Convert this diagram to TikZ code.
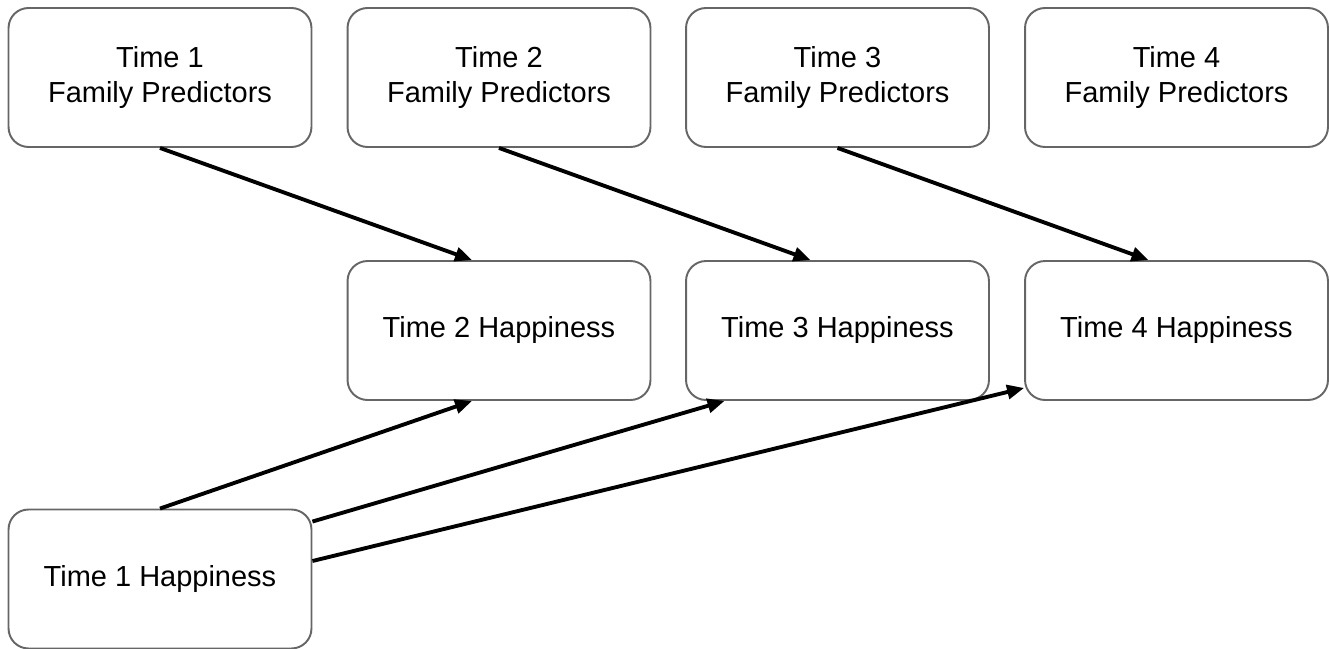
\documentclass[tikz,border=0pt]{standalone}
\usepackage{fontspec}
\setmainfont{Liberation Sans}
\usepackage{tikz}
\usetikzlibrary{arrows.meta}

\begin{document}
\begin{tikzpicture}[x = 0.02cm , y = -0.02cm ,
    box/.style = {draw = black!60 , line width = 1.1pt , rounded corners = 0.4cm ,
        minimum width = 6.06cm , minimum height = 2.78cm , align = center ,
        font = \fontsize{16.5}{20}\selectfont},
    link/.style = {line width = 2.2pt , -{Triangle[length = 0.34cm , width = 0.28cm]}}]
    \useasboundingbox (0,0) rectangle (1329,649);
    % Family predictors
    \node[box] (fp1) at (160,77.5) {Time 1\\Family Predictors};
    \node[box] (fp2) at (499,77.5) {Time 2\\Family Predictors};
    \node[box] (fp3) at (837.5,77.5) {Time 3\\Family Predictors};
    \node[box] (fp4) at (1176.5,77.5) {Time 4\\Family Predictors};
    % Happiness
    \node[box] (h2) at (499,330.5) {Time 2 Happiness};
    \node[box] (h3) at (837.5,330.5) {Time 3 Happiness};
    \node[box] (h4) at (1176.5,330.5) {Time 4 Happiness};
    \node[box] (h1) at (160,579) {Time 1 Happiness};
    % Arrows
    \draw[link] (fp1.south) -- ([xshift = -0.54cm]h2.north);
    \draw[link] (fp2.south) -- ([xshift = -0.54cm]h3.north);
    \draw[link] (fp3.south) -- ([xshift = -0.56cm]h4.north);
    \draw[link] (h1.north) -- ([xshift = -0.54cm]h2.south);
    \draw[link] ([yshift = -0.26cm]h1.north east) -- ([xshift = -2.26cm]h3.south);
    \draw[link] ([yshift = 0.36cm]h1.east) -- ([yshift = 0.26cm]h4.south west);
\end{tikzpicture}
\end{document}
